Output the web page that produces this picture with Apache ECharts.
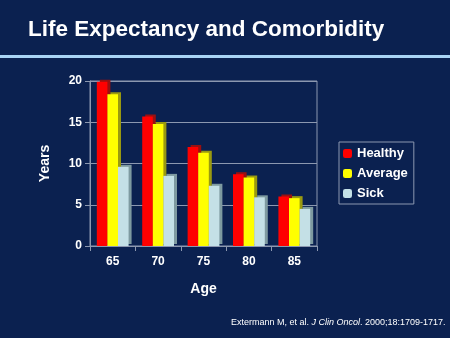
<!DOCTYPE html>
<html><head><meta charset="utf-8">
<script src="https://cdn.jsdelivr.net/npm/echarts@6/dist/echarts.min.js"></script>
<style>html,body{margin:0;padding:0;background:#0b2150;}#c{width:450px;height:338px;}</style>
</head><body><div id="c"></div>
<script>
const categories = ['65', '70', '75', '80', '85'];
const healthy = [19.9, 15.7, 12.0, 8.7, 6.0];
const average = [18.4, 14.8, 11.3, 8.3, 5.8];
const sick = [9.6, 8.5, 7.3, 5.9, 4.5];
const yTicks = [0, 5, 10, 15, 20];

const chart = echarts.init(document.getElementById('c'));
const font = 'Liberation Sans, Arial, sans-serif';
function bar(name, data, color, shade) {
  return {
    name, type: 'bar', data, barGap: '0%', barCategoryGap: '30%',
    itemStyle: { color, shadowColor: shade, shadowBlur: 0, shadowOffsetX: 3, shadowOffsetY: -2 }
  };
}
chart.setOption({
  backgroundColor: '#0b2150',
  animation: false,
  title: {
    text: 'Life Expectancy and Comorbidity', left: 23, top: 13,
    textStyle: { color: '#ffffff', fontSize: 22.5, fontWeight: 'bold', fontFamily: font }
  },
  graphic: [
    { type: 'rect', shape: { x: 0, y: 55, width: 450, height: 3 }, style: { fill: '#a9d4f5' } },
    { type: 'text', left: 231, top: 318, style: {
      text: '{n|Extermann M, et al. }{i|J Clin Oncol}{n|. 2000;18:1709-1717.}',
      rich: {
        n: { fill: '#ffffff', fontSize: 9, fontFamily: font },
        i: { fill: '#ffffff', fontSize: 9, fontFamily: font, fontStyle: 'italic' }
      }
    } }
  ],
  legend: {
    orient: 'vertical', left: 339, top: 142, itemWidth: 9, itemHeight: 9, itemGap: 7,
    padding: [5, 6, 4, 4], borderColor: '#8c98b0', borderWidth: 1,
    textStyle: { color: '#ffffff', fontSize: 13, fontWeight: 'bold', fontFamily: font },
    data: ['Healthy', 'Average', 'Sick']
  },
  grid: { left: 90, right: 133, top: 81, bottom: 92, show: true, borderColor: '#8c98b0', borderWidth: 1 },
  xAxis: {
    type: 'category', data: categories,
    name: 'Age', nameLocation: 'middle', nameGap: 36,
    nameTextStyle: { color: '#ffffff', fontSize: 14, fontWeight: 'bold', fontFamily: font },
    axisLine: { lineStyle: { color: '#8c98b0' } },
    axisTick: { show: true, lineStyle: { color: '#8c98b0' } },
    axisLabel: { color: '#ffffff', fontSize: 12, fontWeight: 'bold', fontFamily: font, margin: 10 }
  },
  yAxis: {
    type: 'value', min: yTicks[0], max: yTicks[yTicks.length - 1], interval: 5,
    name: 'Years', nameLocation: 'middle', nameGap: 38,
    nameTextStyle: { color: '#ffffff', fontSize: 14, fontWeight: 'bold', fontFamily: font },
    axisLine: { show: true, lineStyle: { color: '#8c98b0' } },
    axisTick: { show: true, lineStyle: { color: '#8c98b0' } },
    splitLine: { lineStyle: { color: '#8c98b0' } },
    axisLabel: { color: '#ffffff', fontSize: 12, fontWeight: 'bold', fontFamily: font, margin: 8 }
  },
  series: [
    bar('Healthy', healthy, '#ff0000', '#9a1010'),
    bar('Average', average, '#ffff00', '#9a9a10'),
    bar('Sick', sick, '#c4e0e6', '#7e9aa0')
  ]
});
</script></body></html>
